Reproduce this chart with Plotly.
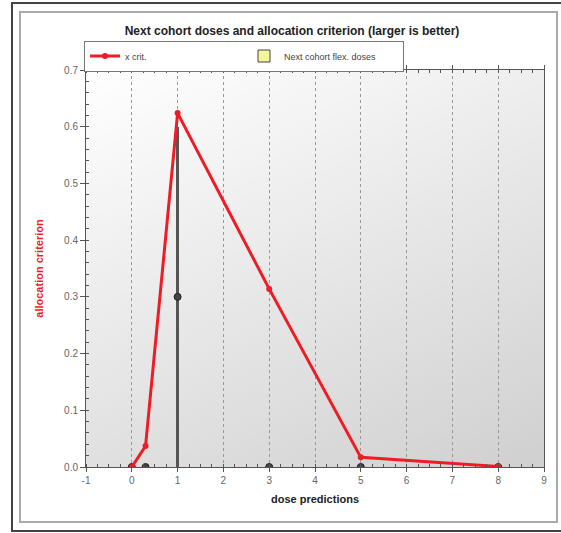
import base64, struct, zlib
import plotly.graph_objects as go

# ---- data ----
doses = [0, 0.3, 1, 3, 5, 8]
x_crit = [0.0, 0.037, 0.624, 0.314, 0.017, 0.001]
flex_doses = [0, 0, 0.6, 0, 0, 0]
x_ticks = [-1, 0, 1, 2, 3, 4, 5, 6, 7, 8, 9]
y_ticks = [0.0, 0.1, 0.2, 0.3, 0.4, 0.5, 0.6, 0.7]

# ---- gradient background PNG ----
def gradient_png(w, h):
    raw = b""
    for yy in range(h):
        row = bytearray([0])
        for xx in range(w):
            g = int(round(255 - 47 * (0.35 * xx / (w - 1) + 0.65 * yy / (h - 1))))
            row += bytes([g, g, g])
        raw += bytes(row)
    def chunk(t, d):
        c = struct.pack(">I", len(d)) + t + d
        return c + struct.pack(">I", zlib.crc32(t + d) & 0xffffffff)
    png = b"\x89PNG\r\n\x1a\n"
    png += chunk(b"IHDR", struct.pack(">IIBBBBB", w, h, 8, 2, 0, 0, 0))
    png += chunk(b"IDAT", zlib.compress(raw, 9))
    png += chunk(b"IEND", b"")
    return "data:image/png;base64," + base64.b64encode(png).decode()

L, R, T, B = 86, 544, 70, 467
PW, PH = R - L, B - T
def px(xp):
    return (xp - L) / PW
def py(yp):
    return (B - yp) / PH

fig = go.Figure()

# flex doses bars
fig.add_trace(go.Bar(x=doses, y=flex_doses, width=0.05, marker=dict(color="#555555", line=dict(width=0)),
                     showlegend=False, hoverinfo="skip"))
fig.add_trace(go.Bar(x=[None], y=[None], name="Next cohort flex. doses",
                     marker=dict(color="#f4f49a", line=dict(color="#444444", width=1))))
fig.add_trace(go.Scatter(x=doses, y=[v / 2 for v in flex_doses], mode="markers", showlegend=False,
                         marker=dict(symbol="circle", size=7, color="#444444", line=dict(color="#222222", width=1))))
# x crit line
fig.add_trace(go.Scatter(x=doses, y=x_crit, mode="lines+markers", name="x crit.",
                         line=dict(color="#ee1c25", width=3),
                         marker=dict(symbol="circle", size=6, color="#ee1c25")))

font = "Liberation Sans, Arial, sans-serif"

fig.update_layout(
    width=561, height=533,
    margin=dict(l=L, r=561 - R, t=T, b=533 - B),
    paper_bgcolor="white",
    plot_bgcolor="rgba(0,0,0,0)",
    font=dict(family=font, size=10, color="#555555"),
    bargap=0,
    title=dict(text="<b>Next cohort doses and allocation criterion (larger is better)</b>",
               font=dict(size=12, color="#222222", family=font),
               x=px(292), xref="paper", xanchor="center", y=1 - 31 / 533, yanchor="middle"),
    legend=dict(orientation="h", x=px(84), y=py(56), xanchor="left", yanchor="middle",
                bgcolor="white", bordercolor="#777777", borderwidth=1,
                font=dict(size=9, color="#444444", family=font),
                entrywidth=114, entrywidthmode="pixels", itemwidth=30, traceorder="reversed",
                tracegroupgap=0),
    xaxis=dict(range=[-1, 9], tickvals=x_ticks, ticktext=[str(v) for v in x_ticks],
               showgrid=True, gridcolor="#999999", griddash="dot", gridwidth=1,
               zeroline=False, showline=True, linecolor="#555555", linewidth=1, mirror="ticks",
               ticks="outside", ticklen=4, tickcolor="#555555",
               minor=dict(dtick=0.25, ticks="inside", ticklen=3, tickcolor="#555555", showgrid=False),
               title=dict(text="<b>dose predictions</b>", font=dict(size=11, color="#222222", family=font), standoff=10),
               tickfont=dict(size=10, color="#666666")),
    yaxis=dict(range=[0, 0.7], tickvals=y_ticks, ticktext=["%.1f" % v for v in y_ticks],
               showgrid=False, zeroline=False, showline=True, linecolor="#555555", linewidth=1, mirror=True,
               ticks="outside", ticklen=5, tickcolor="#555555",
               minor=dict(dtick=0.02, ticks="inside", ticklen=3, tickcolor="#555555", showgrid=False),
               title=dict(text="<b>allocation criterion</b>", font=dict(size=11, color="#ee1c25", family=font), standoff=18),
               tickfont=dict(size=10, color="#666666")),
    images=[dict(source=gradient_png(120, 100), xref="paper", yref="paper", x=0, y=1,
                 sizex=1, sizey=1, sizing="stretch", layer="below", xanchor="left", yanchor="top")],
    shapes=[
        dict(type="rect", xref="paper", yref="paper", x0=px(12), x1=px(570), y0=py(531), y1=py(3),
             line=dict(color="#444444", width=2), layer="below"),
        dict(type="rect", xref="paper", yref="paper", x0=px(20), x1=px(557), y0=py(522), y1=py(12),
             line=dict(color="#aaaaaa", width=2), layer="below"),
    ],
)

fig.write_html("out.html", config={"displayModeBar": False},
               post_script="document.body.style.margin='0';document.body.style.overflow='hidden';")
